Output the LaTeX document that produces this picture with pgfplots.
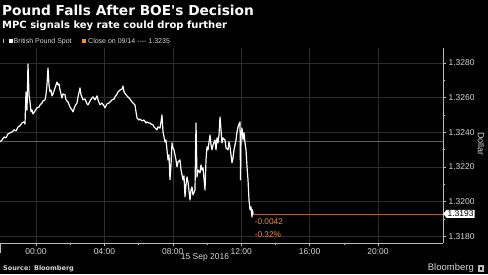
\documentclass[border=0pt]{standalone}
\usepackage{fontspec}
\setmainfont{Liberation Sans}
\newfontfamily\djb{DejaVu Sans Bold}
\usepackage{pgfplots}
\pgfplotsset{compat=1.18}
\usetikzlibrary{shapes.symbols}
\definecolor{gridc}{HTML}{2C2C2C}
\definecolor{axc}{HTML}{BBBBBB}
\definecolor{txt}{HTML}{D6D6D6}
\definecolor{closec}{HTML}{7D5A32}
\definecolor{lastc}{HTML}{A36A2E}
\definecolor{orangetxt}{HTML}{F0922E}
\begin{document}
\begin{tikzpicture}[x=1pt,y=1pt]
\fill[black] (0,-31) rectangle (488,243);
\useasboundingbox (0,-31) rectangle (488,243);
\begin{axis}[
  at={(0pt,0pt)}, anchor=south west,
  scale only axis, width=443pt, height=195pt,
  xmin=-2.105, xmax=23.80, ymin=1.31762, ymax=1.32886,
  axis x line*=bottom, axis y line*=right,
  axis line style={axc, line width=0.6pt},
  xtick={0,4,8,12,16,20},
  xticklabels={00:00,04:00,08:00,12:00,16:00,20:00},
  minor x tick num=1,
  ytick={1.318,1.320,1.322,1.324,1.326,1.328},
  minor y tick num=1,
  yticklabel style={/pgf/number format/fixed,/pgf/number format/precision=4,/pgf/number format/fixed zerofill},
  /pgf/number format/assume math mode=true,
  tick align=outside,
  major tick length=3pt, minor tick length=2pt,
  tick style={axc, line width=0.5pt},
  ticklabel style={font=\fontsize{8.5}{10}\selectfont, text=txt},
  xticklabel style={yshift=1pt},
  yticklabel style={xshift=-1pt},
  xmajorgrids, ymajorgrids,
  major grid style={gridc, line width=0.6pt},
  clip=false,
]
\addplot[closec, line width=0.7pt] coordinates {(-2.105,1.3235) (23.80,1.3235)};
\addplot[lastc, line width=0.7pt] coordinates {(12.69,1.3193) (23.80,1.3193)};
\addplot[white, line width=1.2pt, line join=round] coordinates {
(-2.105,1.32345) (-1.988,1.32356) (-1.871,1.32373) (-1.754,1.32368) (-1.637,1.32391) (-1.520,1.32397)
(-1.404,1.32402) (-1.287,1.32414) (-1.170,1.32408) (-1.053,1.32431) (-0.936,1.32437) (-0.819,1.32454)
(-0.702,1.32460) (-0.643,1.32448) (-0.585,1.32633) (-0.526,1.32529) (-0.468,1.32794) (-0.409,1.32616)
(-0.351,1.32575) (-0.292,1.32518) (-0.234,1.32529) (-0.175,1.32506) (-0.058,1.32523) (0.058,1.32541)
(0.175,1.32546) (0.234,1.32558) (0.351,1.32569) (0.409,1.32581) (0.526,1.32587) (0.585,1.32616)
(0.643,1.32673) (0.702,1.32771) (0.760,1.32673) (0.819,1.32633) (0.877,1.32644) (0.936,1.32610)
(0.994,1.32621) (1.111,1.32656) (1.228,1.32690) (1.287,1.32673) (1.345,1.32679) (1.404,1.32644)
(1.520,1.32598) (1.579,1.32621) (1.696,1.32616) (1.754,1.32587) (1.871,1.32575) (1.988,1.32546)
(2.105,1.32529) (2.164,1.32518) (2.281,1.32552) (2.398,1.32569) (2.456,1.32604) (2.573,1.32656)
(2.632,1.32616) (2.749,1.32587) (2.865,1.32592) (2.982,1.32564) (3.041,1.32558) (3.158,1.32581)
(3.275,1.32598) (3.333,1.32604) (3.450,1.32587) (3.567,1.32610) (3.626,1.32587) (3.743,1.32558)
(3.860,1.32569) (3.977,1.32552) (4.035,1.32541) (4.152,1.32564) (4.269,1.32569) (4.327,1.32575)
(4.444,1.32587) (4.561,1.32592) (4.620,1.32604) (4.737,1.32621) (4.795,1.32633) (4.912,1.32644)
(5.029,1.32650) (5.088,1.32667) (5.146,1.32633) (5.263,1.32616) (5.380,1.32604) (5.497,1.32592)
(5.614,1.32575) (5.673,1.32569) (5.789,1.32558) (5.848,1.32518) (5.906,1.32483) (6.023,1.32471)
(6.082,1.32477) (6.199,1.32466) (6.316,1.32471) (6.433,1.32454) (6.491,1.32460) (6.608,1.32454)
(6.667,1.32454) (6.725,1.32448) (6.842,1.32443) (6.901,1.32431) (7.018,1.32420) (7.076,1.32414)
(7.135,1.32431) (7.251,1.32425) (7.310,1.32460) (7.368,1.32500) (7.427,1.32402) (7.544,1.32345)
(7.602,1.32356) (7.719,1.32241) (7.778,1.32270) (7.836,1.32126) (7.895,1.32212) (7.953,1.32339)
(8.012,1.32310) (8.070,1.32299) (8.187,1.32241) (8.246,1.32201) (8.304,1.32229) (8.421,1.32241)
(8.480,1.32183) (8.596,1.32126) (8.655,1.32149) (8.713,1.32028) (8.772,1.32097) (8.830,1.32143)
(8.889,1.32114) (9.006,1.32010) (9.064,1.32068) (9.123,1.32085) (9.181,1.32039) (9.298,1.32068)
(9.357,1.32454) (9.415,1.32143) (9.474,1.32183) (9.591,1.32166) (9.649,1.32212) (9.708,1.32183)
(9.766,1.32195) (9.883,1.32068) (9.942,1.32241) (10.000,1.32316) (10.058,1.32299) (10.175,1.32385)
(10.234,1.32327) (10.292,1.32299) (10.351,1.32327) (10.468,1.32356) (10.526,1.32299) (10.585,1.32368)
(10.643,1.32339) (10.702,1.32385) (10.760,1.32489) (10.819,1.32414) (10.877,1.32339) (10.936,1.32368)
(11.053,1.32356) (11.111,1.32310) (11.228,1.32299) (11.287,1.32345) (11.345,1.32316) (11.404,1.32270)
(11.462,1.32224) (11.520,1.32252) (11.579,1.32299) (11.637,1.32327) (11.696,1.32356) (11.754,1.32402)
(11.813,1.32431) (11.871,1.32448) (11.930,1.32460) (11.960,1.32126) (11.988,1.32385) (12.047,1.32425)
(12.105,1.32356) (12.164,1.32397) (12.222,1.32339) (12.281,1.32299) (12.339,1.32201) (12.398,1.32126)
(12.456,1.32010) (12.515,1.31953) (12.573,1.31970) (12.632,1.31912) (12.660,1.31953) (12.690,1.31930)
};
\node[signal, signal to=west, signal pointer angle=100, fill=white, text=black, inner sep=1pt,
  font=\fontsize{8.5}{10}\selectfont, anchor=west] at (axis cs:23.80,1.3193) {1.3193};
\node[anchor=west, text=orangetxt, font=\fontsize{8.3}{10}\selectfont, inner sep=0pt] at (axis cs:12.78,1.31885) {-0.0042};
\node[anchor=west, text=orangetxt, font=\fontsize{8.3}{10}\selectfont, inner sep=0pt] at (axis cs:12.78,1.31808) {-0.32\%};
\end{axis}
\draw[axc, line width=0.5pt] (0.4,0) -- (0.4,-10);
\node[anchor=base west, inner sep=0pt, text=white, font=\djb\fontsize{13.7}{15}\selectfont] at (2,228) {Pound Falls After BOE's Decision};
\node[anchor=base west, inner sep=0pt, text=white, font=\djb\fontsize{10}{12}\selectfont] at (2,215) {MPC signals key rate could drop further};
\fill[axc] (3,200) rectangle (4,204);
\fill[white] (8.7,200) rectangle (12.7,204);
\node[anchor=base west, inner sep=0pt, text=txt, font=\fontsize{7}{8}\selectfont] at (13.5,199.5) {British Pound Spot};
\fill[orangetxt] (82,200) rectangle (86,204);
\node[anchor=base west, inner sep=0pt, text=txt, font=\fontsize{7}{8}\selectfont] at (88,199.5) {Close on 09/14 -{}-{}-{}- 1.3235};
\node[rotate=-90, text=txt, font=\fontsize{9}{10}\selectfont, inner sep=0pt] at (481,99) {Dollar};
\node[text=txt, font=\fontsize{8.5}{10}\selectfont, inner sep=0pt] at (205,-14) {15 Sep 2016};
\node[anchor=west, inner sep=0pt, text=txt, font=\djb\fontsize{6.5}{8}\selectfont] at (3,-26) {Source: Bloomberg};
\node[anchor=east, inner sep=0pt, text=txt, font=\fontsize{9.5}{11}\selectfont] at (474,-25) {Bloomberg};
\fill[axc] (478,-29) rectangle (484,-22);
\fill[black] (480,-27) rectangle (482,-24);
\end{tikzpicture}
\end{document}
